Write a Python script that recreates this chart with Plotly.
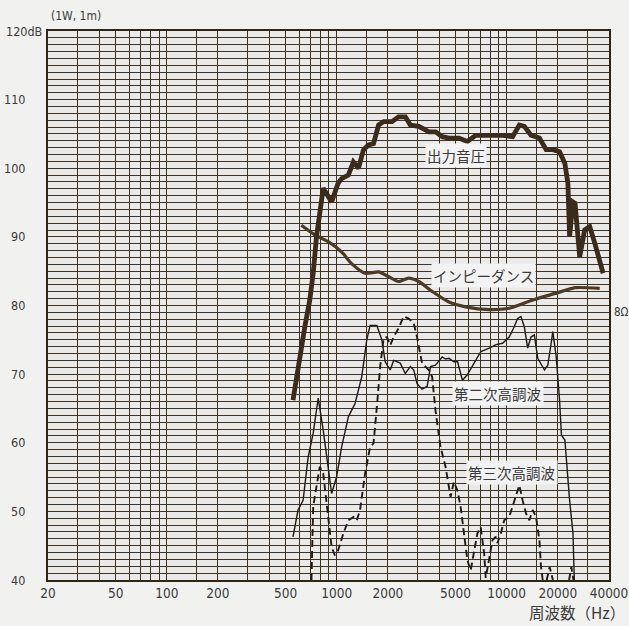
import math
import plotly.graph_objects as go

# ---------------- data ----------------
spl_freq = [553, 592, 649, 694, 727, 760, 797, 833, 933, 1018, 1069, 1170, 1253, 1342,
            1437, 1538, 1647, 1763, 1888, 2113, 2313, 2534, 2712, 3039, 3487, 3818, 4174,
            4570, 5240, 5865, 6567, 7890, 9455, 10840, 11870, 12700, 13900, 15580, 17070,
            18680, 20470, 22000, 22920, 23460, 24550, 25260, 26890, 28760, 30800, 32990, 36920]
spl_db = [66.2, 71.1, 76.9, 80.8, 84.7, 90.0, 94.4, 97.1, 95.1, 97.8, 98.5, 99.0, 100.9, 100.0,
          102.7, 103.4, 103.6, 106.3, 106.8, 106.8, 107.5, 107.5, 106.3, 106.1, 105.3, 105.3, 104.6,
          104.4, 104.4, 103.9, 104.8, 104.8, 104.8, 104.6, 106.3, 106.1, 104.8, 104.4, 102.7,
          102.7, 102.4, 100.7, 97.8, 90.0, 95.1, 94.9, 87.1, 91.0, 91.5, 89.1, 84.7]

imp_freq = [619, 743, 891, 1069, 1224, 1468, 1763, 2024, 2313, 2648, 3039, 3670, 4570, 5730,
            7890, 10350, 14220, 19570, 25260, 35290]
imp_db = [91.7, 90.3, 89.3, 87.8, 86.1, 84.7, 84.9, 84.2, 83.5, 84.0, 83.5, 82.0, 80.5, 79.8,
          79.4, 79.6, 80.8, 81.8, 82.6, 82.5]

h2_freq = [553, 592, 634, 679, 727, 778, 833, 871, 933, 998, 1069, 1171, 1281, 1403, 1502, 1572,
           1722, 1843, 1928, 2064, 2161, 2364, 2532, 2711, 2839, 2969, 3177, 3404, 3565, 3811,
           4174, 4368, 4576, 4890, 5140, 5490, 5865, 6430, 7050, 7890, 8650, 9455, 10350, 11080,
           11590, 12130, 12700, 13290, 13900, 14550, 15230, 16690, 17460, 18270, 18680, 19570,
           20470, 21000, 22000, 23460, 24550, 25000]
h2_db = [46.3, 50.2, 51.6, 57.9, 61.4, 66.5, 61.8, 57.9, 52.6, 55.0, 59.4, 63.8, 65.7, 69.6, 75.0, 77.1,
         77.1, 75.0, 71.8, 70.6, 72.0, 71.6, 70.1, 71.1, 70.6, 68.6, 67.8, 68.2, 71.1, 71.3,
         72.5, 72.2, 72.3, 71.8, 71.8, 69.1, 69.9, 71.6, 73.3, 73.8, 74.3, 74.5, 75.4, 76.9,
         78.1, 78.4, 76.9, 73.8, 75.4, 75.7, 72.3, 70.6, 71.3, 74.5, 76.2, 72.5,
         66.2, 61.1, 60.4, 51.6, 46.8, 40.0]

h3_freq = [710, 727, 760, 795, 833, 871, 911, 933, 975, 1018, 1094, 1171, 1254, 1311, 1371, 1468,
           1572, 1646, 1722, 1802, 1887, 1973, 2064, 2161, 2314, 2477, 2652, 2839, 2969, 3177,
           3482, 3644, 3811, 4079, 4368, 4675, 4890, 5121, 5357, 5610, 5869, 6139, 6428, 6725,
           7035, 7366, 7530, 7890, 8250, 8630, 8830, 9236, 9671, 10350, 11085, 11870, 12416,
           12990, 13600, 14225, 14880, 15580, 15925, 16300,
           None, 17200, 17900, 18700,
           None, 23300, 24000, 24700]
h3_db = [40.0, 50.7, 53.6, 56.5, 55.5, 51.6, 47.7, 44.8, 43.6, 44.3, 46.8, 48.7, 49.2, 48.7, 50.2, 55.5,
         59.4, 59.9, 65.2, 71.1, 75.2, 75.4, 74.2, 75.4, 76.7, 78.4, 78.1, 77.4, 75.4, 71.6,
         70.6, 69.6, 64.7, 59.4, 56.5, 52.1, 54.3, 53.1, 50.7, 46.8, 42.9, 41.4, 43.9, 46.8,
         47.7, 43.9, 40.3, 42.9, 45.8, 46.3, 45.4, 46.8, 48.7, 49.2, 51.6, 53.8, 51.6,
         49.7, 48.7, 50.2, 49.2, 45.8, 41.9, 40.0,
         None, 40.0, 41.9, 40.0,
         None, 40.0, 41.9, 40.0]

x_grid = [20, 30, 40, 50, 60, 70, 80, 90, 100, 150, 200, 300, 400, 500, 600, 700, 800, 900,
          1000, 1500, 2000, 3000, 4000, 5000, 6000, 7000, 8000, 9000, 10000, 15000, 20000,
          30000, 40000]
x_labels = {20: "20", 50: "50", 100: "100", 200: "200", 500: "500", 1000: "1000", 2000: "2000",
            5000: "5000", 10000: "10000", 20000: "20000", 40000: "40000"}
y_grid = list(range(40, 121))
y_labels = [40, 50, 60, 70, 80, 90, 100, 110]

curve_labels = [("出力音圧", 5050, 101.8), ("インピーダンス", 7300, 84.3),
                ("第二次高調波", 8950, 67.2), ("第三次高調波", 10690, 55.7)]

# ---------------- figure ----------------
W, H = 629, 626
L, R, T, B = 48, 20, 31, 46
pw = W - L - R
ph = H - T - B

grid_col = "#3e3421"
txt_col = "#3a3a3a"
num_font = "Liberation Sans Narrow, DejaVu Sans Condensed, Liberation Sans, Arial, sans-serif"
jp_font = "Noto Sans CJK JP, Noto Sans, sans-serif"

fig = go.Figure()
fig.add_trace(go.Scatter(x=imp_freq, y=imp_db, mode="lines",
                         line=dict(color="#4a3a26", width=3.2, shape="spline", smoothing=0.6),
                         hoverinfo="skip"))
fig.add_trace(go.Scatter(x=spl_freq, y=spl_db, mode="lines",
                         line=dict(color="#3a2b1b", width=4.8), hoverinfo="skip"))
fig.add_trace(go.Scatter(x=h2_freq, y=h2_db, mode="lines",
                         line=dict(color="#1f1a15", width=1.4), hoverinfo="skip"))
fig.add_trace(go.Scatter(x=h3_freq, y=h3_db, mode="lines", connectgaps=False,
                         line=dict(color="#1f1a15", width=1.9, dash="7px,4px"), hoverinfo="skip"))

for text, fx, fy in curve_labels:
    fig.add_annotation(x=math.log10(fx), y=fy, xref="x", yref="y", text=text, showarrow=False,
                       font=dict(family=jp_font, size=14.5, color=txt_col),
                       bgcolor="#f3f3f3", borderpad=1)

for v in y_labels:
    fig.add_annotation(x=(27 - L) / pw, y=v, xref="paper", yref="y", text=str(v), showarrow=False,
                       xanchor="right", yanchor="middle",
                       font=dict(family=num_font, size=12.5, color=txt_col))
fig.add_annotation(x=(4 - L) / pw, y=120, xref="paper", yref="y", text="120dB", showarrow=False,
                   xanchor="left", yanchor="middle",
                   font=dict(family=num_font, size=12.5, color=txt_col))
fig.add_annotation(x=(49 - L) / pw, y=1 + (T - 16) / ph, xref="paper", yref="paper",
                   text="(1W, 1m)", showarrow=False, xanchor="left", yanchor="middle",
                   font=dict(family=num_font, size=12, color=txt_col))
fig.add_annotation(x=(627 - L) / pw, y=-(612 - (H - B)) / ph, xref="paper", yref="paper",
                   text="周波数（Hz）", showarrow=False, xanchor="right", yanchor="middle",
                   font=dict(family=jp_font, size=15.5, color=txt_col))
fig.add_annotation(x=(613 - L) / pw, y=79.0, xref="paper", yref="y", text="8Ω", showarrow=False,
                   xanchor="left", yanchor="middle", borderpad=0,
                   font=dict(family=num_font, size=11.5, color=txt_col))

fig.update_layout(
    width=W, height=H, autosize=False,
    margin=dict(l=L, r=R, t=T, b=B, autoexpand=False),
    paper_bgcolor="#f1f1f0", plot_bgcolor="#e9e9e9",
    showlegend=False,
    xaxis=dict(type="log", range=[math.log10(20), math.log10(40000)], tickmode="array",
               tickvals=x_grid, ticktext=[x_labels.get(v, "") for v in x_grid],
               showgrid=True, gridcolor=grid_col, gridwidth=1,
               showline=True, linecolor="#2e2616", linewidth=2, mirror=True,
               ticks="", tickfont=dict(family=num_font, size=13.5, color=txt_col),
               zeroline=False, fixedrange=True, automargin=False),
    yaxis=dict(range=[40, 120], tickmode="array", tickvals=y_grid,
               ticktext=["" for _ in y_grid],
               showgrid=True, gridcolor=grid_col, gridwidth=1,
               showline=True, linecolor="#2e2616", linewidth=2, mirror=True,
               ticks="", zeroline=False, fixedrange=True, automargin=False),
)

fig.write_html("out.html", config={"displayModeBar": False, "responsive": False},
               post_script="document.body.style.margin='0';document.body.style.overflow='hidden';"
                           "document.body.style.background='#f1f1f0';")
